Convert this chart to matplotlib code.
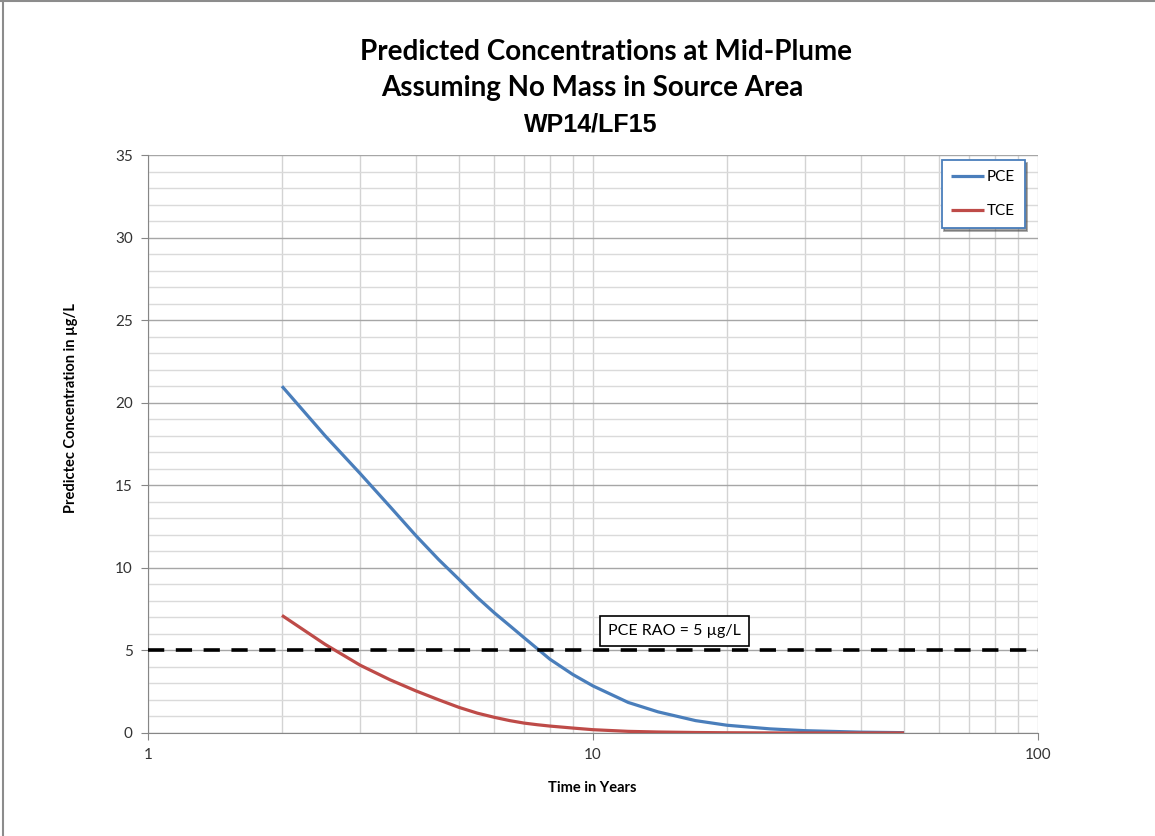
import numpy as np
import matplotlib
matplotlib.use("Agg")
import matplotlib.pyplot as plt
from matplotlib.lines import Line2D
from matplotlib.ticker import FixedLocator, NullFormatter

# ==========================================================
# data
# ==========================================================
years = [2, 2.5, 3, 3.5, 4, 4.5, 5, 5.5, 6, 6.5, 7, 7.5, 8, 9, 10, 12, 14, 17,
         20, 25, 30, 40, 50]
pce = [21.0, 18.0, 15.7, 13.7, 11.95, 10.5, 9.3, 8.2, 7.28, 6.5, 5.77, 5.1, 4.47,
       3.55, 2.85, 1.85, 1.28, 0.75, 0.47, 0.25, 0.14, 0.05, 0.02]
tce = [7.12, 5.37, 4.1, 3.22, 2.55, 2.01, 1.55, 1.2, 0.95, 0.75, 0.6, 0.5, 0.42,
       0.3, 0.2, 0.1, 0.06, 0.03, 0.015, 0.005, 0.0, 0.0, 0.0]
rao_level = 5
y_ticks = [0, 5, 10, 15, 20, 25, 30, 35]
x_ticks = [1, 10, 100]

title_lines = ["Predicted Concentrations at Mid-Plume",
               "Assuming No Mass in Source Area",
               "WP14/LF15"]

calib = ["Lato", "DejaVu Sans"]
plt.rcParams['font.family'] = calib

fig = plt.figure(figsize=(11.55, 8.36), dpi=100)
ax = fig.add_axes([148 / 1155, 103 / 836, 890 / 1155, 578 / 836])

# grid
ax.set_xscale("log")
ax.set_xlim(1, 100)
ax.set_ylim(0, 35)
ax.yaxis.set_major_locator(FixedLocator(y_ticks))
ax.yaxis.set_minor_locator(FixedLocator(np.arange(0, 36, 1)))
ax.xaxis.set_major_locator(FixedLocator(x_ticks))
ax.xaxis.set_minor_locator(FixedLocator([m * d for d in (1, 10) for m in range(2, 10)]))
ax.xaxis.set_minor_formatter(NullFormatter())
ax.set_xticklabels([str(t) for t in x_ticks])
ax.grid(True, which="major", axis="y", color="#a6a6a6", lw=1.0)
ax.grid(True, which="minor", axis="y", color="#dadada", lw=1.0)
ax.grid(True, which="both", axis="x", color="#d3d3d3", lw=1.0)
ax.set_axisbelow(True)
for s in ("top", "right"):
    ax.spines[s].set_visible(False)
for s in ("left", "bottom"):
    ax.spines[s].set_color("#868686")
ax.tick_params(which="major", length=5, color="#868686", labelsize=11,
               labelcolor="#333333", pad=6)
ax.tick_params(which="minor", length=0)

# series
ax.plot(years, pce, color="#4a7ebb", lw=2.3, label="PCE", solid_capstyle="butt",
        solid_joinstyle="round", zorder=3)
ax.plot(years, tce, color="#be4b48", lw=2.3, label="TCE", solid_capstyle="butt",
        solid_joinstyle="round", zorder=3)
ax.axhline(rao_level, color="black", lw=2.6, dashes=(4.5, 3.2), zorder=4)

ax.text(0.5915, 0.1766, "PCE RAO = 5 µg/L", transform=ax.transAxes, ha="center", va="center",
        fontsize=11.5, zorder=5,
        bbox=dict(boxstyle="square,pad=0.5", fc="white", ec="black", lw=1.2))

leg = ax.legend(loc="upper right", bbox_to_anchor=(0.985, 0.991), borderaxespad=0,
                frameon=True, fancybox=False, shadow=True, handlelength=2.1,
                labelspacing=1.3, borderpad=0.65, handletextpad=0.2, prop={"size": 11})
leg.get_frame().set_edgecolor("#4a7ebb")
leg.get_frame().set_linewidth(1.3)

ax.set_xlabel("Time in Years", fontsize=10.5, fontweight="bold")
ax.xaxis.set_label_coords(0.499, -0.083)
ax.set_ylabel("Predictec Concentration in µg/L", fontsize=10.5, fontweight="bold")
ax.yaxis.set_label_coords(-0.0787, 0.562)

# titles
fig.text(606 / 1155, 1 - 52 / 836, title_lines[0], ha="center", va="center",
         fontsize=20, fontweight="bold")
fig.text(592 / 1155, 1 - 88 / 836, title_lines[1], ha="center", va="center",
         fontsize=20, fontweight="bold")
fig.text(591 / 1155, 1 - 125 / 836, title_lines[2], ha="center", va="center",
         fontsize=18, fontweight="bold", family=["Liberation Sans", "DejaVu Sans"])

# outer frame (top and left edges only, as cropped)
fig.add_artist(Line2D([3 / 1155, 3 / 1155], [0, 1], color="#8c8c8c", lw=1.5))
fig.add_artist(Line2D([0, 1], [1 - 1 / 836, 1 - 1 / 836], color="#8c8c8c", lw=1.5))

fig.savefig("out.png", dpi=100)
